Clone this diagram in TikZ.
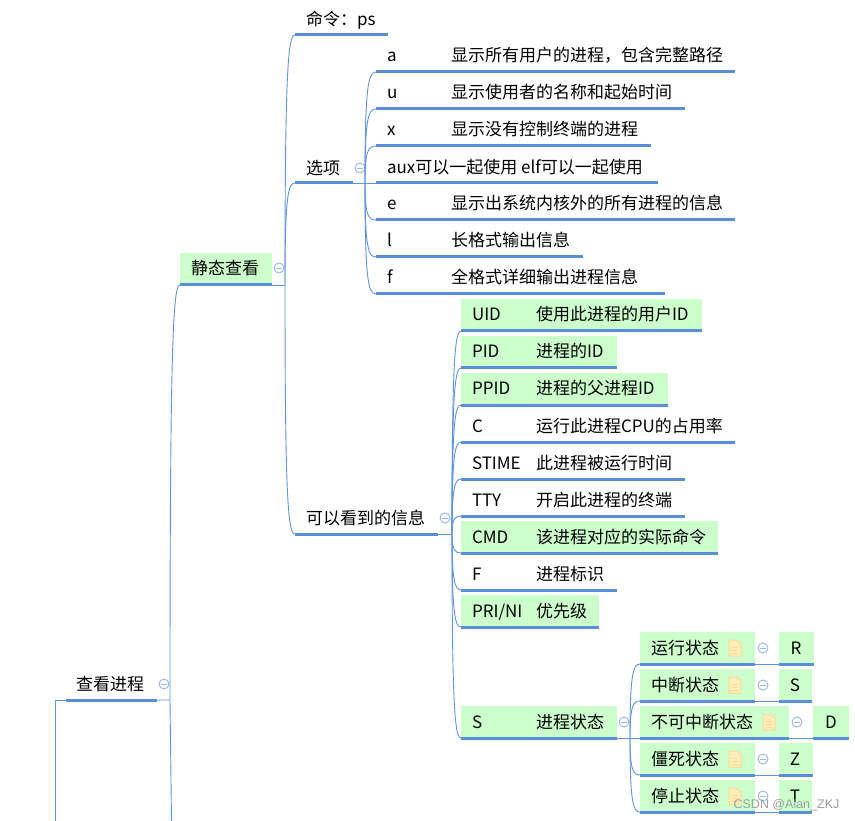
\documentclass[tikz,border=0pt]{standalone}
\usepackage{fontspec}
\setmainfont{Noto Sans CJK SC}
\setsansfont{Liberation Sans}
\usetikzlibrary{calc}
\definecolor{linkblue}{HTML}{5F95DC}
\definecolor{underblue}{HTML}{588FD8}
\definecolor{topicgreen}{HTML}{CCFFCC}
\definecolor{circleblue}{HTML}{96B5E8}
\definecolor{noteedge}{HTML}{FBD88C}
\definecolor{notefill}{HTML}{FFEDBC}
\tikzset{
  topicbox/.style={inner sep=0pt,outer sep=0pt,anchor=south west,minimum height=32pt},
  plainbox/.style={topicbox},
  greenbox/.style={topicbox,fill=topicgreen},
  under/.style={draw=underblue,line width=3pt},
  link/.style={draw=linkblue,line width=0.9pt},
  txt/.style={inner sep=0pt,outer sep=0pt,anchor=base west,font=\fontsize{17}{19}\selectfont,text=black},
  ctxt/.style={inner sep=0pt,outer sep=0pt,anchor=center,font=\fontsize{17}{19}\selectfont,text=black},
  collapse/.style={circle,draw=circleblue,line width=0.9pt,fill=white,minimum size=10pt,inner sep=0pt,outer sep=0pt},
  minusbar/.style={draw=circleblue,line width=0.9pt},
  mark text/.style={inner sep=0pt,anchor=center,text=black!38,font=\fontsize{12.5}{14}\selectfont\sffamily},
  noteicon/.style={inner sep=0pt,outer sep=0pt,minimum width=12pt,minimum height=16pt},
}
% name, style, x1, x2, bottom y
\newcommand{\topicbox}[5]{%
  \node[#2,minimum width={#4-#3}] (#1) at (#3,#5) {};
  \draw[under] (#1.south west) -- (#1.south east);
}
\newcommand{\rowa}[6]{%
  \topicbox{#1}{#2}{376}{#3}{#4}
  \node[txt] (#1-a) at ($(#1.south west)+(11,-10)$) {#5};
  \node[txt] (#1-b) at ($(#1.south west)+(75,-10)$) {#6};
}
\newcommand{\rowb}[6]{%
  \topicbox{#1}{#2}{461}{#3}{#4}
  \node[txt] (#1-a) at ($(#1.south west)+(11,-10)$) {#5};
  \node[txt] (#1-b) at ($(#1.south west)+(75,-10)$) {#6};
}
% collapse mark: name, x, y
\newcommand{\cmark}[3]{%
  \node[collapse] (#1) at (#2,#3) {};
  \draw[minusbar] ($(#1.center)+(-3,0)$) -- ($(#1.center)+(3,0)$);
}
% note icon: name, x center, y center
\newcommand{\noteic}[3]{%
  \node[noteicon] (#1) at (#2,#3) {};
  \draw[draw=noteedge,fill=notefill,line width=1pt,line join=round]
    (#1.north west) -- ($(#1.north east)+(-4,0)$) -- ($(#1.north east)+(0,4)$) -- (#1.south east) -- (#1.south west) -- cycle;
  \draw[draw=noteedge,line width=1pt] ($(#1.center)+(-3,-1)$) -- ($(#1.center)+(3,-1)$)
    ($(#1.center)+(-3,2)$) -- ($(#1.center)+(3,2)$) ($(#1.center)+(-3,5)$) -- ($(#1.center)+(3,5)$);
}
% curve from junction to a child's lower left corner
\newcommand{\branch}[2]{%
  \draw[link] (#1) .. controls ($(#1)!0.86!(#1|-#2.south west)$) and ($(#1|-#2.south west)+(3,0)$) .. (#2.south west);
}
% state row: name, x2, note x, circle x, value x1, value x2, bottom, label
\newcommand{\staterow}[8]{%
  \topicbox{#1}{greenbox}{640}{#2}{#7}
  \topicbox{#1v}{greenbox}{#5}{#6}{#7}
  \draw[link] (#1.south east) -- (#1v.south west);
  \noteic{#1n}{#3}{#7-16}
  \cmark{#1c}{#4}{#7-16}
  \node[txt] (#1-t) at ($(#1.south west)+(11,-10)$) {#8};
}
\begin{document}
\begin{tikzpicture}[x=1pt,y=-1pt]
\useasboundingbox (0,0) rectangle (855,821);
\fill[white] (0,0) rectangle (855,821);

% root
\topicbox{root}{plainbox}{66}{157}{700}
\node[ctxt] (root-t) at (110,684.5) {查看进程};
\coordinate (rootleft) at (55,700);
\coordinate (rootleftend) at (55,821);
\coordinate (rootj) at (170,700);
\coordinate (rootend) at (171.5,821);
\draw[link] (root.south west) -- (rootleft) -- (rootleftend);
\draw[link] (root.south east) -- (rootj) -- (rootend);
\cmark{rootc}{164}{684}

% static view
\topicbox{static}{greenbox}{180}{272}{285}
\node[ctxt] (static-t) at (225,268.5) {静态查看};
\coordinate (staticj) at (285,285);
\draw[link] (static.south east) -- (staticj);
\branch{rootj}{static}
\cmark{staticc}{279}{268}

% second level
\topicbox{cmd}{plainbox}{295}{388}{35}
\node[txt] (cmd-t) at (306,25.5) {命令：ps};
\topicbox{opts}{plainbox}{295}{353}{183}
\node[txt] (opts-t) at (306,174.5) {选项};
\topicbox{info}{plainbox}{295}{438}{534}
\node[txt] (info-t) at (306,524.5) {可以看到的信息};
\branch{staticj}{cmd}
\branch{staticj}{opts}
\branch{staticj}{info}
\cmark{optsc}{360}{168}
\cmark{infoc}{445}{518}

% options
\coordinate (optsj) at (365,183);
\rowa{oa}{plainbox}{735}{72}{a}{显示所有用户的进程，包含完整路径}
\rowa{ou}{plainbox}{685}{109}{u}{显示使用者的名称和起始时间}
\rowa{ox}{plainbox}{651}{146}{x}{显示没有控制终端的进程}
\topicbox{oaux}{plainbox}{376}{658}{183}
\node[txt] (oaux-t) at (387,173.5) {aux可以一起使用 elf可以一起使用};
\rowa{oe}{plainbox}{735}{220}{e}{显示出系统内核外的所有进程的信息}
\rowa{ol}{plainbox}{583}{257}{l}{长格式输出信息}
\rowa{of}{plainbox}{665}{294}{f}{全格式详细输出进程信息}
\draw[link] (opts.south east) -- (oaux.south west);
\foreach \c in {oa,ou,ox,oe,ol,of}{\branch{optsj}{\c}}

% information
\coordinate (infoj) at (452,534);
\rowb{iuid}{greenbox}{702}{331}{UID}{使用此进程的用户ID}
\rowb{ipid}{greenbox}{617}{368}{PID}{进程的ID}
\rowb{ippid}{greenbox}{668}{405}{PPID}{进程的父进程ID}
\rowb{ic}{plainbox}{735}{442}{C}{运行此进程CPU的占用率}
\rowb{istime}{plainbox}{685}{479}{STIME}{此进程被运行时间}
\rowb{itty}{plainbox}{685}{516}{TTY}{开启此进程的终端}
\rowb{icmd}{greenbox}{718}{553}{CMD}{该进程对应的实际命令}
\rowb{if}{plainbox}{617}{590}{F}{进程标识}
\rowb{ipri}{greenbox}{599}{627}{PRI/NI}{优先级}
\rowb{is}{greenbox}{617}{738}{S}{进程状态}
\draw[link] (info.south east) -- (infoj);
\foreach \c in {iuid,ipid,ippid,ic,istime,itty,icmd,if,ipri,is}{\branch{infoj}{\c}}
\cmark{isc}{624}{722}

% states
\coordinate (isj) at (630,738);
\staterow{run}{755}{735}{763}{779}{814}{664}{运行状态}
\node[ctxt] (runv-t) at (796,648.5) {R};
\staterow{int}{755}{735}{763}{779}{812}{701}{中断状态}
\node[ctxt] (intv-t) at (795,685.5) {S};
\staterow{uni}{789}{769}{797}{813}{849}{738}{不可中断状态}
\node[ctxt] (univ-t) at (831,722.5) {D};
\staterow{zom}{755}{735}{763}{779}{813}{775}{僵死状态}
\node[ctxt] (zomv-t) at (795,759.5) {Z};
\staterow{stp}{755}{735}{763}{779}{812}{812}{停止状态}
\node[ctxt] (stpv-t) at (795,796.5) {T};
\draw[link] (is.south east) -- (uni.south west);
\foreach \c in {run,int,zom,stp}{\branch{isj}{\c}}

\node[mark text] (wm) at (786.5,805) {CSDN @Alan\_ZKJ};
\end{tikzpicture}
\end{document}
